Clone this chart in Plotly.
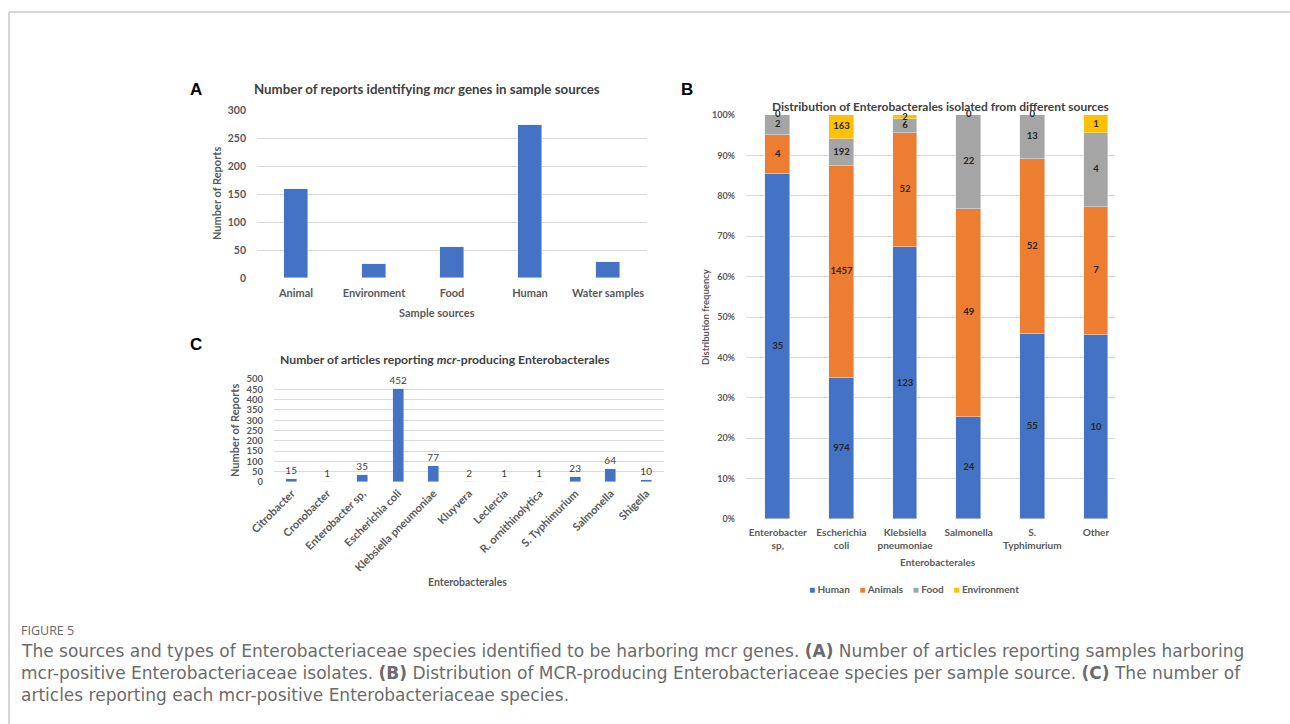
import plotly.graph_objects as go

W, H = 1290, 724

# Panel A: reports per sample source
sources = ["Animal", "Environment", "Food", "Human", "Water samples"]
source_reports = [159, 25, 56, 273, 29]

# Panel B: isolates per species and source
species = ["Enterobacter<br>sp,", "Escherichia<br>coli", "Klebsiella<br>pneumoniae",
           "Salmonella", "S.<br>Typhimurium", "Other"]
human = [35, 974, 123, 24, 55, 10]
animals = [4, 1457, 52, 49, 52, 7]
food = [2, 192, 6, 22, 13, 4]
environment = [0, 163, 2, 0, 0, 1]
b_series = [("Human", human, "#4472C4"), ("Animals", animals, "#ED7D31"),
            ("Food", food, "#A5A5A5"), ("Environment", environment, "#FFC000")]

# Panel C: articles per genus / species
genera = ["Citrobacter", "Cronobacter", "Enterobacter sp,", "Escherichia coli",
          "Klebsiella pneumoniae", "Kluyvera", "Leclercia", "R. ornithinolytica",
          "S. Typhimurium", "Salmonella", "Shigella"]
genus_articles = [15, 1, 35, 452, 77, 2, 1, 1, 23, 64, 10]


def fx(px):
    return px / W


def fy(py):
    return 1 - py / H


FONT = "Lato"
AX_COL = "#595959"
GRID = "#D9D9D9"
BLUE = "#4472C4"

fig = go.Figure()

# ---- Panel A
fig.add_trace(go.Bar(x=sources, y=source_reports, width=0.31, marker_color=BLUE,
                     showlegend=False, xaxis="x", yaxis="y"))

# ---- Panel B (stacked shares, labelled with counts)
totals = [sum(v) for v in zip(human, animals, food, environment)]
cum = [0.0] * len(species)
lab_x, lab_y, lab_t = [], [], []
for name, vals, col in b_series:
    pct = [v / t * 100 for v, t in zip(vals, totals)]
    fig.add_trace(go.Bar(x=species, y=pct, name=name, width=0.39, marker_color=col,
                         textposition="none", xaxis="x2", yaxis="y2",
                         showlegend=False, hoverinfo="skip"))
    for i, (v, p) in enumerate(zip(vals, pct)):
        lab_x.append(species[i])
        lab_y.append(cum[i] + p / 2 if v > 0 else 100)
        lab_t.append(str(v))
        cum[i] += p

fig.add_trace(go.Scatter(x=lab_x, y=lab_y, text=lab_t, mode="text",
                         textfont=dict(family=FONT, size=9.5, color="#262626",
                                       weight="bold"),
                         showlegend=False, cliponaxis=False, xaxis="x2", yaxis="y2"))

# ---- Panel C
fig.add_trace(go.Bar(x=genera, y=genus_articles, width=0.31, marker_color=BLUE,
                     text=genus_articles, textposition="outside", cliponaxis=False,
                     constraintext="none",
                     textfont=dict(family=FONT, size=10, color="#404040"),
                     showlegend=False, xaxis="x3", yaxis="y3"))


def tfont(size):
    return dict(family=FONT, size=size, color=AX_COL, weight="bold")


common_y = dict(showgrid=True, gridcolor=GRID, gridwidth=1, zeroline=False,
                showline=False, ticks="", tickmode="linear", automargin=False,
                fixedrange=True)
common_x = dict(showgrid=False, zeroline=False, showline=False, ticks="",
                type="category", automargin=False, fixedrange=True)

fig.update_layout(
    width=W, height=H,
    margin=dict(l=0, r=0, t=0, b=0, autoexpand=False),
    paper_bgcolor="white", plot_bgcolor="white",
    barmode="stack", bargap=0, showlegend=False,
    font=dict(family=FONT, color=AX_COL),
    xaxis=dict(domain=[fx(257), fx(647)], anchor="y", tickfont=tfont(11),
               ticklabelstandoff=7, **common_x),
    yaxis=dict(domain=[fy(278), fy(110)], anchor="x", range=[0, 300], dtick=50,
               ticklabelstandoff=10, tickfont=tfont(10.5), **common_y),
    xaxis2=dict(domain=[fx(746), fx(1115)], anchor="y2", range=[-0.5, 5.3],
                tickfont=tfont(10), ticklabelstandoff=6, **common_x),
    yaxis2=dict(domain=[fy(519), fy(115)], anchor="x2", range=[0, 100], dtick=10,
                ticksuffix="%", ticklabelstandoff=10, tickfont=tfont(9), **common_y),
    xaxis3=dict(domain=[fx(274), fx(664)], anchor="y3", tickangle=-45,
                tickfont=tfont(11), ticklabelstandoff=2, **common_x),
    yaxis3=dict(domain=[fy(482), fy(379)], anchor="x3", range=[0, 500], dtick=50,
                ticklabelstandoff=10, tickfont=tfont(9.5), **common_y),
)


def note(text, x, y, size=11, color="#404040", angle=0, xanchor="center",
         family=FONT, bold=True):
    fig.add_annotation(text=text, x=fx(x), y=fy(y), xref="paper", yref="paper",
                       showarrow=False, textangle=angle, xanchor=xanchor,
                       yanchor="middle",
                       font=dict(family=family, size=size, color=color,
                                 weight="bold" if bold else "normal"))


# Panel letters
for letter, x, y in [("A", 196, 89), ("B", 687, 89), ("C", 196, 344)]:
    note(letter, x, y, size=17, color="#000000", family="Liberation Sans")

# Titles
note("Number of reports identifying <i>mcr</i> genes in sample sources", 427, 89,
     size=13.3, color="#404040")
note("Distribution of Enterobacterales isolated from different sources", 940, 107,
     size=12, color="#404040")
note("Number of articles reporting <i>mcr</i>-producing Enterobacterales", 445, 359,
     size=12.2, color="#404040")

# Axis titles
note("Number of Reports", 217, 194, size=11, color=AX_COL, angle=-90)
note("Sample sources", 437, 312, size=11, color=AX_COL)
note("Distribution frequency", 705, 317, size=9.5, color=AX_COL, angle=-90)
note("Enterobacterales", 938, 562, size=10, color=AX_COL)
note("Number of Reports", 235, 431, size=11, color=AX_COL, angle=-90)
note("Enterobacterales", 467, 582, size=10.5, color=AX_COL)

# Legend for panel B
sep = "\u00a0" * 4
legend_text = sep.join(
    f"<span style='color:{col}'>\u25a0</span>\u00a0{name}" for name, _, col in b_series
)
note(legend_text, 914, 589, size=10, color=AX_COL)

# Caption
CAP = "DejaVu Sans"
note("FIGURE 5", 19, 630, size=12.5, color="#666666", xanchor="left", family="Open Sans",
     bold=False)
caption = [
    "The sources and types of Enterobacteriaceae species identified to be harboring mcr genes. "
    "<b>(A)</b> Number of articles reporting samples harboring",
    "mcr-positive Enterobacteriaceae isolates. <b>(B)</b> Distribution of MCR-producing "
    "Enterobacteriaceae species per sample source. <b>(C)</b> The number of",
    "articles reporting each mcr-positive Enterobacteriaceae species.",
]
for i, line in enumerate(caption):
    note(line, 19, 651 + 22 * i, size=17, color="#6b6b6b", xanchor="left", family=CAP,
         bold=False)

# Page frame
fig.add_shape(type="line", xref="paper", yref="paper", x0=fx(9), x1=1, y0=fy(12),
              y1=fy(12), line=dict(color="#C8C8C8", width=1.5))
fig.add_shape(type="line", xref="paper", yref="paper", x0=fx(9), x1=fx(9), y0=fy(12),
              y1=0, line=dict(color="#C8C8C8", width=1.5))

fig.write_html("out.html")
